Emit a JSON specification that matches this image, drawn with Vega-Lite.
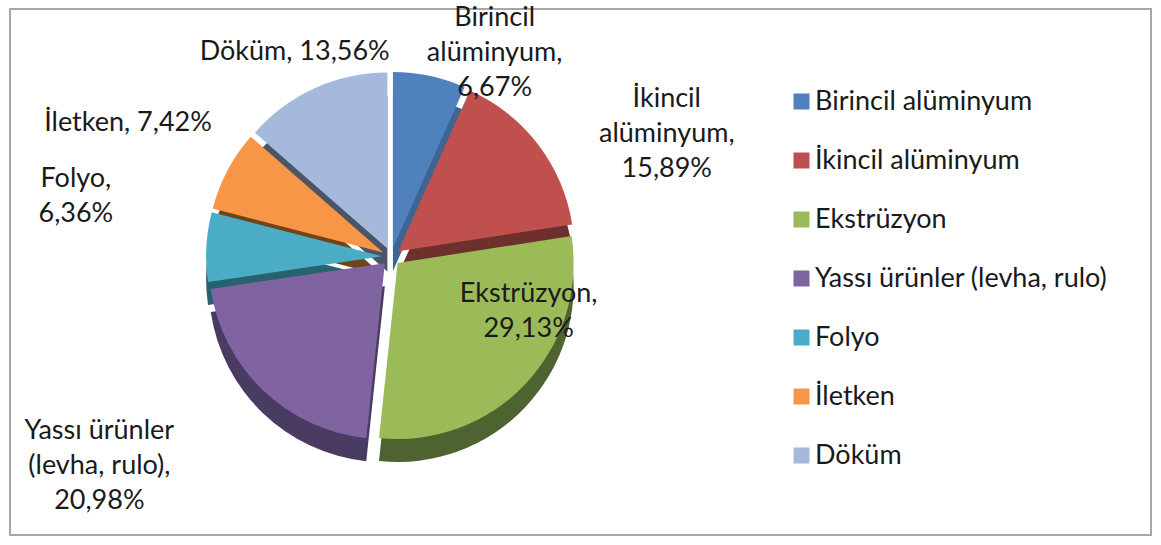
{
  "$schema": "https://vega.github.io/schema/vega-lite/v6.json",
  "width": 1161,
  "height": 545,
  "autosize": {"type": "fit", "contains": "padding"},
  "padding": {"left": 9, "top": 8, "right": 9, "bottom": 9},
  "background": "white",
  "config": {
    "view": {"stroke": null},
    "font": "Lato"
  },
  "data": {
    "values": [
      {"idx": 1, "category": "Birincil alüminyum", "percent": 6.67, "label": "Birincil\nalüminyum,\n6,67%"},
      {"idx": 2, "category": "İkincil alüminyum", "percent": 15.89, "label": "İkincil\nalüminyum,\n15,89%"},
      {"idx": 3, "category": "Ekstrüzyon", "percent": 29.13, "label": "Ekstrüzyon,\n29,13%"},
      {"idx": 4, "category": "Yassı ürünler (levha,  rulo)", "percent": 20.98, "label": "Yassı ürünler\n(levha,  rulo),\n20,98%"},
      {"idx": 5, "category": "Folyo", "percent": 6.36, "label": "Folyo,\n6,36%"},
      {"idx": 6, "category": "İletken", "percent": 7.42, "label": "İletken, 7,42%"},
      {"idx": 7, "category": "Döküm", "percent": 13.56, "label": "Döküm, 13,56%"}
    ]
  },
  "layer": [
    {
      "data": {"values": [{"frame": 1}]},
      "mark": {"type": "rect", "fill": null, "stroke": "#a6a6a6", "strokeWidth": 2},
      "encoding": {
        "x": {"value": 0},
        "x2": {"value": "width"},
        "y": {"value": 0},
        "y2": {"value": "height"}
      }
    },
    {
      "mark": {
        "type": "arc",
        "radius": 176,
        "x": {"expr": "width*0.334"},
        "y": {"expr": "height*0.471"},
        "xOffset": {"expr": "9*sin((datum.percent_start+datum.percent_end)/100.01*PI)"},
        "yOffset": {"expr": "23-9*cos((datum.percent_start+datum.percent_end)/100.01*PI)"}
      },
      "encoding": {
        "theta": {"field": "percent", "type": "quantitative", "stack": true},
        "order": {"field": "idx", "type": "quantitative"},
        "color": {
          "field": "category",
          "type": "nominal",
          "scale": {
            "domain": ["Birincil alüminyum", "İkincil alüminyum", "Ekstrüzyon", "Yassı ürünler (levha,  rulo)", "Folyo", "İletken", "Döküm"],
            "range": ["#3e6592", "#6e302d", "#4f6330", "#4a3b63", "#27626f", "#6e4419", "#4b5566"]
          },
          "legend": null
        }
      }
    },
    {
      "mark": {
        "type": "arc",
        "radius": 176,
        "x": {"expr": "width*0.334"},
        "y": {"expr": "height*0.471"},
        "xOffset": {"expr": "9*sin((datum.percent_start+datum.percent_end)/100.01*PI)"},
        "yOffset": {"expr": "-9*cos((datum.percent_start+datum.percent_end)/100.01*PI)"}
      },
      "encoding": {
        "theta": {"field": "percent", "type": "quantitative", "stack": true},
        "order": {"field": "idx", "type": "quantitative"},
        "color": {
          "field": "category",
          "type": "nominal",
          "scale": {
            "domain": ["Birincil alüminyum", "İkincil alüminyum", "Ekstrüzyon", "Yassı ürünler (levha,  rulo)", "Folyo", "İletken", "Döküm"],
            "range": ["#4f81bd", "#c0504d", "#9bbb59", "#8064a2", "#4bacc6", "#f79646", "#a5b9dc"]
          },
          "legend": {
            "title": null,
            "orient": "none",
            "legendX": 778,
            "legendY": 79,
            "symbolType": "square",
            "symbolSize": 256,
            "symbolStrokeWidth": 0,
            "labelFont": "Lato",
            "labelFontSize": 27,
            "labelColor": "#1a1a1a",
            "labelOffset": 0,
            "rowPadding": 31,
            "labelLimit": 400
          }
        }
      }
    },
    {
      "mark": {
        "type": "text",
        "radius": 0,
        "x": {"expr": "width*0.334"},
        "y": {"expr": "height*0.417"},
        "dx": {"expr": "datum.category === 'Ekstrüzyon' ? 190*sin((datum.percent_start+datum.percent_end)/100.01*PI) : 320*sin((datum.percent_start+datum.percent_end)/100.01*PI+0.12) + 90*sin((datum.percent_start+datum.percent_end)/100.01*PI+0.12)*max(0,-cos((datum.percent_start+datum.percent_end)/100.01*PI+0.12))"},
        "dy": {"expr": "(datum.category === 'Ekstrüzyon' ? -120*cos((datum.percent_start+datum.percent_end)/100.01*PI) : -185*cos((datum.percent_start+datum.percent_end)/100.01*PI+0.12) + 190*max(0,-cos((datum.percent_start+datum.percent_end)/100.01*PI+0.12))) - (length(split(datum.label, '\\n'))-1)*17.5"},
        "lineBreak": "\n",
        "fontSize": 27,
        "lineHeight": 35,
        "font": "Lato",
        "color": "#1a1a1a",
        "align": "center",
        "baseline": "middle"
      },
      "encoding": {
        "theta": {"field": "percent", "type": "quantitative", "stack": true},
        "order": {"field": "idx", "type": "quantitative"},
        "text": {"field": "label", "type": "nominal"}
      }
    }
  ],
  "resolve": {"scale": {"color": "independent"}}
}
